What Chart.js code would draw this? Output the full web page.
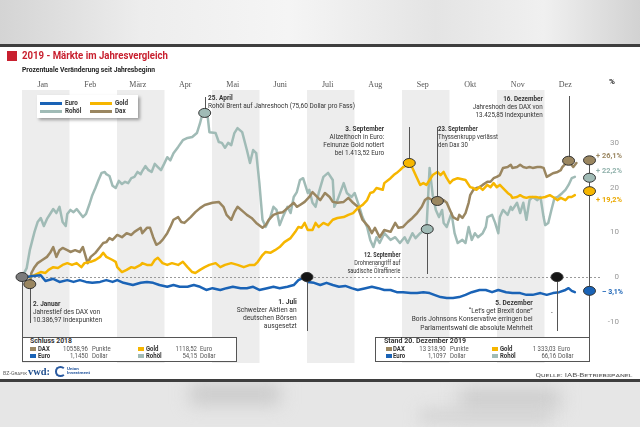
<!DOCTYPE html>
<html lang="de">
<head>
<meta charset="utf-8">
<script src="https://cdn.jsdelivr.net/npm/chart.js@4/dist/chart.umd.min.js"></script>
<style>
  html, body { margin: 0; padding: 0; background: #fff; }
  #stage { position: relative; width: 640px; height: 427px; overflow: hidden; background: #fff; font-family: Roboto, sans-serif; }
  #c { position: absolute; left: 0; top: 0; }
  .t { position: absolute; white-space: nowrap; }
  .box { position: absolute; box-sizing: border-box; border: 1px solid #555; background: #fff; }
  .sw { position: absolute; width: 6px; height: 4px; }
</style>
</head>
<body>
<div id="stage">
  <div style="position:absolute;left:0;top:0;width:640px;height:44px;background:linear-gradient(90deg,#d4d4d4 0%,#ededed 22%,#f5f5f5 45%,#e4e4e4 68%,#f0f0f0 85%,#d2d2d2 100%)"></div>
  <div style="position:absolute;left:0;top:44px;width:640px;height:3px;background:#3e3e3e"></div>
  <div style="position:absolute;left:0;top:379px;width:640px;height:3px;background:#3e3e3e"></div>
  <div style="position:absolute;left:0;top:382px;width:640px;height:45px;background:#e6e6e6;overflow:hidden">
    <div style="position:absolute;left:190px;top:2px;width:90px;height:20px;background:#c9c9c9;filter:blur(9px)"></div>
    <div style="position:absolute;left:460px;top:6px;width:100px;height:22px;background:#cdcdcd;filter:blur(9px)"></div>
    <div style="position:absolute;left:420px;top:28px;width:130px;height:12px;background:#d0d0d0;filter:blur(8px)"></div>
  </div>
  <canvas id="c" width="640" height="427"></canvas>
</div>
<script>
// Axis categories
const months = ['Jan', 'Feb', 'März', 'Apr', 'Mai', 'Juni', 'Juli', 'Aug', 'Sep', 'Okt', 'Nov', 'Dez'];
const yTicks = [30, 20, 10, 0, -10];

// Series: day of year (0 = Jahresbeginn) and change in percent
const euroDays = [0,3,7,12,15,20,24,29,33,37,41,45,50,54,58,61,65,71,76,80,84,88,93,97,101,106,110,114,118,122,127,131,135,140,144,148,152,157,161,165,170,174,177,180,183,187,191,195,199,203,207,211,215,220,224,228,232,236,240,244,249,253,257,261,264,268,272,276,280,284,288,293,297,301,305,310,314,319,323,327,332,336,340,344,348,350,352,354];
const euroValues = [0,0,0.2,0.4,-0.9,-0.4,-1.1,-0.7,-1.1,-0.7,-1.1,-1.3,-1.1,-0.7,-1.1,-0.7,-1.3,-1.8,-1.3,-1.1,-1.3,-1.8,-2.2,-1.8,-2.2,-2.2,-1.8,-2.2,-2.9,-2.5,-2.9,-2.5,-2.2,-2.5,-2.5,-2.2,-2.9,-2.5,-2.2,-2.5,-2.2,-1.8,-0.7,-0.2,-1.1,-1.3,-1.8,-1.3,-1.8,-2.2,-2.0,-2.5,-2.9,-2.5,-2.2,-2.5,-2.9,-2.9,-3.4,-3.4,-3.6,-3.6,-3.4,-3.6,-4.0,-4.5,-4.7,-4.7,-4.5,-4.0,-3.4,-2.9,-2.9,-3.4,-2.9,-3.4,-3.6,-3.6,-4.0,-4.0,-3.6,-4.0,-3.6,-3.4,-2.9,-2.5,-3.1,-3.4];

const goldDays = [0,5,8,12,15,17,20,23,26,29,32,35,38,40,44,47,50,52,54,58,60,61,64,67,70,72,76,77,80,83,85,87,90,93,96,100,103,106,109,111,114,117,120,124,127,130,134,138,142,146,149,151,154,156,159,162,165,168,172,175,177,179,181,183,186,188,190,193,196,199,202,206,209,212,215,218,221,223,225,227,231,232,236,238,240,242,244,247,248,250,253,255,257,259,261,263,266,268,270,272,274,276,279,284,287,289,291,293,295,298,300,302,304,306,308,311,313,314,317,319,321,323,325,329,332,335,338,340,343,345,348,350,352,354];
const goldValues = [0,0,0.4,1.1,0.9,1.6,2.2,2.0,2.7,3.1,2.7,3.1,2.2,3.1,3.4,3.8,4.5,5.4,4.5,3.8,3.4,2.2,1.1,1.6,2.2,2.0,2.7,3.1,2.7,2.7,3.8,4.3,3.1,2.7,3.1,2.7,3.4,2.2,1.1,0.9,1.6,2.2,2.7,3.1,2.2,2.7,3.1,2.7,2.2,2.7,2.7,3.4,4.9,5.6,5.4,6.0,6.7,7.8,8.7,10.1,11.2,11.0,12.1,10.5,10.5,12.1,11.2,12.1,11.6,12.8,13.2,13.4,13.9,14.3,15.4,16.1,17.2,18.8,19.0,19.9,19.5,21.0,22.1,22.8,23.3,23.9,24.6,25.1,25.5,24.4,22.1,20.6,21.0,20.6,21.7,22.8,23.5,22.8,23.5,22.1,21.0,21.7,22.1,21.7,20.1,19.9,19.5,20.1,19.5,20.6,20.1,21.0,20.1,20.6,19.9,18.8,18.3,17.7,17.9,18.3,17.9,17.7,17.9,17.9,17.7,17.9,18.3,17.9,17.2,17.7,17.2,17.9,17.9,18.3];

const oilDays = [0,3,5,8,10,12,14,16,18,20,22,24,26,28,29,31,33,35,37,39,41,43,45,47,49,51,53,54,56,58,60,62,64,66,68,70,72,74,76,77,79,81,83,85,87,89,91,93,95,97,100,103,106,109,112,114,115,117,119,120,124,126,128,130,132,134,136,138,141,144,146,148,150,152,154,156,159,161,163,165,167,170,172,174,176,178,180,183,184,186,188,190,193,196,199,200,202,206,208,211,213,216,218,221,223,225,227,229,232,236,239,242,245,247,250,252,255,257,259,261,263,265,267,269,270,272,275,277,279,282,284,286,288,290,292,295,297,298,301,303,305,306,308,311,313,314,317,319,321,323,325,327,330,332,334,335,337,339,341,343,346,348,350,352,354];
const oilValues = [0,2.0,6.0,10.1,12.3,13.2,11.4,13.0,14.1,15.2,14.3,15.7,12.3,11.4,14.1,15.0,14.5,15.2,14.3,13.4,14.1,16.1,18.3,19.9,21.7,23.3,23.5,23.0,22.6,20.4,19.9,21.5,20.8,21.3,21.0,22.1,22.4,23.5,23.0,23.7,24.8,23.9,23.5,25.3,24.6,23.9,25.3,26.8,26.1,27.7,29.1,30.6,31.1,31.3,32.2,34.4,35.8,36.7,35.6,32.4,32.2,30.2,30.0,28.9,30.0,29.5,32.2,33.3,32.4,28.4,25.5,28.4,27.7,21.0,12.8,11.2,13.4,15.7,15.0,11.6,13.4,15.7,14.3,17.9,19.0,21.7,22.1,18.8,19.5,16.6,15.7,18.8,22.4,23.3,21.7,15.7,17.2,21.0,18.8,17.9,18.8,15.7,13.4,11.2,8.3,6.7,8.9,7.6,9.8,8.3,8.9,7.6,8.9,7.6,9.8,8.7,9.8,10.3,10.7,24.4,18.3,15.0,13.4,15.0,12.1,11.2,14.3,9.8,7.6,8.3,7.6,11.2,8.3,9.8,8.9,9.8,11.2,13.4,13.9,12.1,9.8,13.4,15.0,13.9,15.7,15.0,16.6,14.3,16.6,12.8,17.2,17.9,17.2,17.9,13.4,11.6,12.1,15.0,17.7,17.9,18.8,19.5,20.6,22.1,22.4];

const daxDays = [0,5,6,8,10,13,16,18,20,22,24,26,29,31,34,37,39,42,44,47,50,52,54,56,58,61,64,67,70,72,76,77,80,82,84,86,88,90,93,95,97,100,102,104,108,111,114,117,122,126,129,131,134,136,138,142,144,147,150,154,156,158,161,164,167,170,174,176,178,181,184,186,189,191,194,197,199,202,206,209,212,215,218,222,224,226,229,232,236,239,241,244,247,250,253,256,258,260,263,264,268,270,272,274,276,279,280,282,284,286,287,289,291,293,295,298,300,302,304,306,308,311,313,314,317,319,321,323,325,327,330,332,334,336,338,340,343,345,346,349,351,353,355];
const daxValues = [0,-1.6,0.9,2.2,3.1,3.8,4.5,5.4,6.7,4.5,6.0,6.5,6.0,5.6,6.0,5.6,6.7,3.1,4.5,5.4,6.7,7.6,7.8,8.7,8.3,9.4,8.9,9.8,9.4,10.1,11.0,9.8,11.0,11.0,8.9,7.2,7.6,8.3,9.8,11.2,12.8,13.4,12.3,12.1,13.4,14.5,15.4,16.1,16.6,16.8,15.7,13.9,12.8,14.5,15.7,14.5,13.9,13.2,12.1,11.0,11.6,12.8,13.9,14.3,14.5,15.4,16.6,15.7,16.1,16.8,17.9,19.0,17.9,17.2,18.8,17.9,16.8,16.6,16.8,17.7,16.6,15.7,12.8,11.2,9.8,11.0,8.9,10.5,10.1,12.1,11.0,11.2,12.3,13.2,14.3,15.7,17.2,17.7,17.2,16.8,16.6,17.2,16.6,15.0,13.4,12.8,13.9,13.2,14.3,16.6,18.3,19.5,19.9,20.1,20.6,21.3,21.3,22.1,22.4,22.8,24.4,24.6,25.1,24.4,24.6,25.1,24.6,24.4,24.6,24.4,24.6,24.6,24.4,22.4,22.8,23.2,23.5,23.9,24.6,25.7,25.5,24.6,25.5];

// Change since start of year as printed at the right edge
const seriesNames = ['Euro', 'Gold', 'Rohöl', 'Dax'];
const finalChange = [-3.1, 19.2, 22.2, 26.1];
const endDay = 363;

const EURO = '#1a63b6', GOLD = '#f6b600', OIL = '#a0bbb6', DAX = '#9a8660';
const seriesColors = [EURO, GOLD, OIL, DAX];

// Marked events: day, value, marker colour, end of the pointer line (px)
const callouts = [
  { day: 0, value: 0, fill: '#7b7b7b', to: 337 },
  { day: 5, value: -1.6, fill: DAX, to: 323 },
  { day: 117, value: 36.7, fill: OIL, to: 97 },
  { day: 248, value: 25.5, fill: GOLD, to: 127 },
  { day: 266, value: 17.0, fill: DAX, to: 127 },
  { day: 350, value: 26.0, fill: DAX, to: 96 },
  { day: 259.5, value: 10.7, fill: OIL, to: 274 },
  { day: 182.5, value: 0, fill: '#151515', to: 331 },
  { day: 342.6, value: 0, fill: '#151515', to: 331 },
];

const stage = document.getElementById('stage');

function put(html, x, y, o = {}) {
  const d = document.createElement('div');
  d.className = 't';
  d.innerHTML = html;
  const size = o.size || 7, lh = o.lh || 8;
  d.style.font = `400 ${size}px/${lh}px ${o.family || 'Roboto, sans-serif'}`;
  if (o.bold) d.style.fontWeight = 700;
  if (o.caps) d.style.fontVariant = 'small-caps';
  d.style.color = o.color || '#333';
  d.style.top = (y - lh / 2) + 'px';
  if (o.align === 'right') {
    d.style.right = (640 - x) + 'px';
    d.style.textAlign = 'right';
    d.style.transformOrigin = 'right top';
  } else {
    d.style.left = x + 'px';
    d.style.transformOrigin = 'left top';
  }
  stage.appendChild(d);
  const sx = o.w ? o.w / d.getBoundingClientRect().width : (o.sx || 0.86);
  d.style.transform = `scaleX(${sx})`;
  return d;
}

function block(cls, x, y, w, h, style = '') {
  const d = document.createElement('div');
  d.className = cls;
  d.style.cssText += `left:${x}px;top:${y}px;width:${w}px;height:${h}px;${style}`;
  stage.appendChild(d);
  return d;
}

const pts = (days, vals) => days.map((d, i) => ({ x: d, y: vals[i] }));

function ellipse(ctx, x, y, fill) {
  ctx.beginPath();
  ctx.ellipse(x, y, 6, 4.5, 0, 0, Math.PI * 2);
  ctx.fillStyle = fill;
  ctx.fill();
  ctx.lineWidth = 1;
  ctx.strokeStyle = '#333';
  ctx.stroke();
}

const decor = {
  id: 'decor',
  beforeDatasetsDraw(chart) {
    const { ctx, chartArea: a, scales: { x, y } } = chart;
    const mw = 365 / 12;
    ctx.save();
    // month bands
    ctx.fillStyle = '#ededed';
    for (let i = 0; i < 12; i += 2) {
      const x0 = x.getPixelForValue(i * mw), x1 = x.getPixelForValue((i + 1) * mw);
      ctx.fillRect(x0, a.top, x1 - x0, a.bottom - a.top);
    }
    // zero line
    const y0 = Math.round(y.getPixelForValue(0)) + 0.5;
    ctx.strokeStyle = '#9a9a9a';
    ctx.lineWidth = 1;
    ctx.setLineDash([2, 2]);
    ctx.beginPath();
    ctx.moveTo(a.left, y0);
    ctx.lineTo(a.right + 10, y0);
    ctx.stroke();
    ctx.setLineDash([]);
    // month labels
    ctx.font = '8px "Liberation Serif", serif';
    ctx.fillStyle = '#555';
    ctx.textAlign = 'center';
    ctx.textBaseline = 'middle';
    months.forEach((m, i) => ctx.fillText(m, x.getPixelForValue((i + 0.5) * mw) - 3, 85));
    // value labels on the right
    ctx.font = '8px Roboto, sans-serif';
    ctx.fillStyle = '#999';
    ctx.textAlign = 'right';
    yTicks.forEach(v => ctx.fillText(String(v), 619, y.getPixelForValue(v)));
    ctx.restore();
  },
  afterDatasetsDraw(chart) {
    const { ctx, scales: { x, y } } = chart;
    ctx.save();
    ctx.strokeStyle = '#555';
    ctx.lineWidth = 1;
    // pointer lines
    callouts.forEach(c => {
      const px = Math.round(x.getPixelForValue(c.day)) + 0.5;
      ctx.beginPath();
      ctx.moveTo(px, y.getPixelForValue(c.value));
      ctx.lineTo(px, c.to);
      ctx.stroke();
    });
    const ex = Math.round(x.getPixelForValue(endDay)) + 0.5;
    ctx.beginPath();
    ctx.moveTo(ex, y.getPixelForValue(Math.max(...finalChange)));
    ctx.lineTo(ex, 337);
    ctx.stroke();
    // markers
    callouts.forEach(c => ellipse(ctx, x.getPixelForValue(c.day), y.getPixelForValue(c.value), c.fill));
    finalChange.forEach((v, i) => ellipse(ctx, ex, y.getPixelForValue(v), seriesColors[i]));
    ctx.restore();
  }
};

new Chart(document.getElementById('c'), {
  type: 'line',
  data: {
    datasets: [
      { label: 'Euro', data: pts(euroDays, euroValues), borderColor: EURO },
      { label: 'Gold', data: pts(goldDays, goldValues), borderColor: GOLD },
      { label: 'Dax', data: pts(daxDays, daxValues), borderColor: DAX },
      { label: 'Rohöl', data: pts(oilDays, oilValues), borderColor: OIL },
    ]
  },
  options: {
    responsive: false,
    animation: false,
    devicePixelRatio: 1,
    layout: { padding: { left: 22, right: 48, top: 90, bottom: 64 } },
    elements: {
      line: { borderWidth: 2.5, tension: 0, borderJoinStyle: 'round', borderCapStyle: 'round' },
      point: { radius: 0 }
    },
    plugins: { legend: { display: false }, tooltip: { enabled: false } },
    scales: {
      x: { type: 'linear', min: 0, max: 365, display: false },
      y: { min: -19.24, max: 41.83, display: false }
    }
  },
  plugins: [decor]
});

// Title
block('sw', 7, 51, 10, 10, 'background:#c8202f');
put('2019 - Märkte im Jahresvergleich', 22, 56, { size: 11, lh: 12, bold: true, color: '#c8202f', w: 146 });
put('Prozentuale Veränderung seit Jahresbeginn', 22, 70, { size: 7.5, bold: true, color: '#222', w: 133 });
put('%', 609, 82, { size: 8, bold: true, color: '#222', sx: 1 });

// Legend
block('box', 37, 95, 101, 23, 'border:none;box-shadow:2px 2px 3px rgba(0,0,0,0.35)');
[[0, 40, 103], [1, 90, 103], [2, 40, 111], [3, 90, 111]].forEach(([i, lx, ly]) => {
  block('sw', lx, ly - 1.5, 22, 3, `background:${seriesColors[i]}`);
  put(seriesNames[i], lx + 25, ly, { bold: true, color: '#333', sx: 0.9 });
});

// Event notes
put('<b>25. April</b><br>Rohöl Brent auf Jahreshoch (75,60 Dollar pro Fass)', 208, 99, { lh: 7.5, w: 147 });
put('<b>3. September</b><br>Allzeithoch in Euro:<br>Feinunze Gold notiert<br>bei 1.413,52 Euro', 384, 129, { align: 'right', w: 61 });
put('<b>23. September</b><br>Thyssenkrupp verlässt<br>den Dax 30', 438, 129, { w: 60 });
put('<b>16. Dezember</b><br>Jahreshoch des DAX von<br>13.425,85 Indexpunkten', 543, 99, { align: 'right', w: 70 });
put('<b>12. September</b><br>Drohnenangriff auf<br>saudische Ölraffinerie', 400, 255, { align: 'right', w: 53 });
put('<b>2. Januar</b><br>Jahrestief des DAX von<br>10.386,97 Indexpunkten', 33, 304, { w: 69 });
put('<b>1. Juli</b><br>Schweizer Aktien an<br>deutschen Börsen<br>ausgesetzt', 297, 302, { align: 'right', w: 60 });
put('<b>5. Dezember</b><br>“Let’s get Brexit done”<br>Boris Johnsons Konservative erringen bei<br>Parlamentswahl die absolute Mehrheit', 533, 303, { align: 'right', lh: 8.3, w: 121 });
put('-', 551, 313, { color: '#333' });

// End values
const fmt = v => (v < 0 ? '– ' : '+ ') + Math.abs(v).toFixed(1).replace('.', ',') + '%';
const endLabelY = [292, 200, 171, 156];
finalChange.forEach((v, i) => {
  put(fmt(v), v < 0 ? 602 : 596, endLabelY[i], { size: 7.5, bold: true, color: i === 2 ? '#8fb0aa' : (i === 1 ? '#eaa800' : seriesColors[i]), w: v < 0 ? 21 : 26 });
});

// Closing prices
block('box', 22, 337, 215, 25);
block('box', 375, 337, 215, 25);
put('Schluss 2018', 30, 341, { bold: true, w: 42 });
put('Stand 20. Dezember 2019', 384, 341, { bold: true, w: 82 });
const priceRows = [
  [DAX, 'DAX', '10558,96', 'Punkte', GOLD, 'Gold', '1118,52', 'Euro', '13 318,90', 'Punkte', '1 333,03', 'Euro'],
  [EURO, 'Euro', '1,1450', 'Dollar', OIL, 'Rohöl', '54,15', 'Dollar', '1,1097', 'Dollar', '66,16', 'Dollar'],
];
priceRows.forEach((r, k) => {
  const ry = 349 + k * 7;
  block('sw', 30, ry - 2, 6, 4, `background:${r[0]}`);
  put(r[1], 38, ry, { bold: true });
  put(r[2], 88, ry, { align: 'right', color: '#555' });
  put(r[3], 92, ry, { color: '#555' });
  block('sw', 138, ry - 2, 6, 4, `background:${r[4]}`);
  put(r[5], 146, ry, { bold: true });
  put(r[6], 197, ry, { align: 'right', color: '#555' });
  put(r[7], 200, ry, { color: '#555' });
  block('sw', 386, ry - 2, 6, 4, `background:${r[0]}`);
  put(r[1], 393, ry, { bold: true });
  put(r[8], 446, ry, { align: 'right', color: '#555' });
  put(r[9], 450, ry, { color: '#555' });
  block('sw', 492, ry - 2, 6, 4, `background:${r[4]}`);
  put(r[5], 500, ry, { bold: true });
  put(r[10], 556, ry, { align: 'right', color: '#555' });
  put(r[11], 558, ry, { color: '#555' });
});

// Footer
put('BZ-Grafik', 3, 373, { size: 5, caps: true, color: '#666', w: 24 });
put('vwd:', 28, 372, { size: 10, lh: 10, bold: true, family: '"Liberation Serif", serif', color: '#1f4e8e', w: 22 });
block('sw', 55, 366, 7, 7, 'border:2px solid #2a5aa0;border-radius:50%;border-right-color:transparent');
put('<b>Union<br>Investment</b>', 67, 370, { size: 3.5, lh: 3.8, color: '#2a5aa0', w: 23 });
put('Quelle: IAB-Betriebspanel', 632, 375, { align: 'right', size: 5, caps: true, color: '#555', w: 97 });
</script>
</body>
</html>
